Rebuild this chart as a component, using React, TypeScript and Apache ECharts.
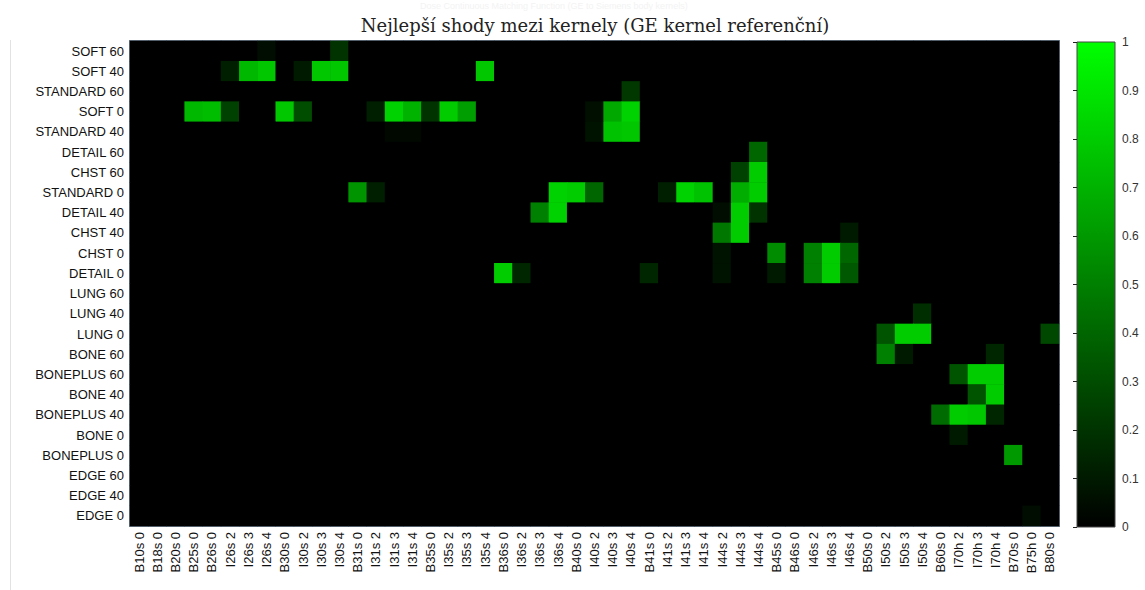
import React, { useEffect, useRef } from "react";
import * as echarts from "echarts";

const xLabels = [
  "B10s 0", "B18s 0", "B20s 0", "B25s 0", "B26s 0", "I26s 2", "I26s 3", "I26s 4",
  "B30s 0", "I30s 2", "I30s 3", "I30s 4", "B31s 0", "I31s 2", "I31s 3", "I31s 4",
  "B35s 0", "I35s 2", "I35s 3", "I35s 4", "B36s 0", "I36s 2", "I36s 3", "I36s 4",
  "B40s 0", "I40s 2", "I40s 3", "I40s 4", "B41s 0", "I41s 2", "I41s 3", "I41s 4",
  "I44s 2", "I44s 3", "I44s 4", "B45s 0", "B46s 0", "I46s 2", "I46s 3", "I46s 4",
  "B50s 0", "I50s 2", "I50s 3", "I50s 4", "B60s 0", "I70h 2", "I70h 3", "I70h 4",
  "B70s 0", "B75h 0", "B80s 0",
];

const yLabels = [
  "SOFT 60", "SOFT 40", "STANDARD 60", "SOFT 0", "STANDARD 40", "DETAIL 60",
  "CHST 60", "STANDARD 0", "DETAIL 40", "CHST 40", "CHST 0", "DETAIL 0",
  "LUNG 60", "LUNG 40", "LUNG 0", "BONE 60", "BONEPLUS 60", "BONE 40",
  "BONEPLUS 40", "BONE 0", "BONEPLUS 0", "EDGE 60", "EDGE 40", "EDGE 0",
];

// [GE kernel (row), Siemens kernel (column), match value]
const matches: [string, string, number][] = [
  ["SOFT 60", "I26s 4", 0.05], ["SOFT 60", "I30s 4", 0.2],
  ["SOFT 40", "I26s 2", 0.12], ["SOFT 40", "I26s 3", 0.72], ["SOFT 40", "I26s 4", 0.78],
  ["SOFT 40", "I30s 2", 0.1], ["SOFT 40", "I30s 3", 0.78], ["SOFT 40", "I30s 4", 0.78],
  ["SOFT 40", "I35s 4", 0.78],
  ["STANDARD 60", "I40s 4", 0.22],
  ["SOFT 0", "B25s 0", 0.72], ["SOFT 0", "B26s 0", 0.74], ["SOFT 0", "I26s 2", 0.25],
  ["SOFT 0", "B30s 0", 0.78], ["SOFT 0", "I30s 2", 0.3], ["SOFT 0", "I31s 2", 0.12],
  ["SOFT 0", "I31s 3", 0.82], ["SOFT 0", "I31s 4", 0.7], ["SOFT 0", "B35s 0", 0.2],
  ["SOFT 0", "I35s 2", 0.8], ["SOFT 0", "I35s 3", 0.62], ["SOFT 0", "I40s 2", 0.06],
  ["SOFT 0", "I40s 3", 0.66], ["SOFT 0", "I40s 4", 0.82],
  ["STANDARD 40", "I31s 3", 0.03], ["STANDARD 40", "I31s 4", 0.03],
  ["STANDARD 40", "I40s 2", 0.07], ["STANDARD 40", "I40s 3", 0.76], ["STANDARD 40", "I40s 4", 0.78],
  ["DETAIL 60", "I44s 4", 0.4],
  ["CHST 60", "I44s 3", 0.25], ["CHST 60", "I44s 4", 0.8],
  ["STANDARD 0", "B31s 0", 0.58], ["STANDARD 0", "I31s 2", 0.12], ["STANDARD 0", "I36s 4", 0.82],
  ["STANDARD 0", "B40s 0", 0.8], ["STANDARD 0", "I40s 2", 0.4], ["STANDARD 0", "I41s 2", 0.12],
  ["STANDARD 0", "I41s 3", 0.82], ["STANDARD 0", "I41s 4", 0.76], ["STANDARD 0", "I44s 3", 0.68],
  ["STANDARD 0", "I44s 4", 0.8],
  ["DETAIL 40", "I36s 3", 0.5], ["DETAIL 40", "I36s 4", 0.82], ["DETAIL 40", "I44s 2", 0.05],
  ["DETAIL 40", "I44s 3", 0.8], ["DETAIL 40", "I44s 4", 0.2],
  ["CHST 40", "I44s 2", 0.47], ["CHST 40", "I44s 3", 0.8], ["CHST 40", "I46s 4", 0.1],
  ["CHST 0", "I44s 2", 0.07], ["CHST 0", "B45s 0", 0.55], ["CHST 0", "I46s 2", 0.5],
  ["CHST 0", "I46s 3", 0.8], ["CHST 0", "I46s 4", 0.4],
  ["DETAIL 0", "B36s 0", 0.8], ["DETAIL 0", "I36s 2", 0.15], ["DETAIL 0", "B41s 0", 0.15],
  ["DETAIL 0", "I44s 2", 0.07], ["DETAIL 0", "B45s 0", 0.1], ["DETAIL 0", "I46s 2", 0.5],
  ["DETAIL 0", "I46s 3", 0.8], ["DETAIL 0", "I46s 4", 0.35],
  ["LUNG 40", "I50s 4", 0.18],
  ["LUNG 0", "I50s 2", 0.33], ["LUNG 0", "I50s 3", 0.8], ["LUNG 0", "I50s 4", 0.8], ["LUNG 0", "B80s 0", 0.28],
  ["BONE 60", "I50s 2", 0.5], ["BONE 60", "I50s 3", 0.1], ["BONE 60", "I70h 4", 0.15],
  ["BONEPLUS 60", "I70h 2", 0.33], ["BONEPLUS 60", "I70h 3", 0.8], ["BONEPLUS 60", "I70h 4", 0.8],
  ["BONE 40", "I70h 3", 0.33], ["BONE 40", "I70h 4", 0.8],
  ["BONEPLUS 40", "B60s 0", 0.42], ["BONEPLUS 40", "I70h 2", 0.8], ["BONEPLUS 40", "I70h 3", 0.78],
  ["BONEPLUS 40", "I70h 4", 0.15],
  ["BONE 0", "I70h 2", 0.1],
  ["BONEPLUS 0", "B70s 0", 0.6],
  ["EDGE 0", "B75h 0", 0.05],
];

const colorbarTicks = [0, 0.1, 0.2, 0.3, 0.4, 0.5, 0.6, 0.7, 0.8, 0.9, 1];

const titleText = "Nejlepší shody mezi kernely (GE kernel referenční)";
const ghostTitle = "Dose Continuous Matching Function (GE to Siemens body kernels)";

export default function App() {
  const ref = useRef<HTMLDivElement>(null);
  useEffect(() => {
    if (!ref.current) return;
    const chart = echarts.init(ref.current, undefined, { renderer: "svg" });

    const matrix: number[][] = yLabels.map(() => xLabels.map(() => 0));
    matches.forEach(([r, c, v]) => {
      matrix[yLabels.indexOf(r)][xLabels.indexOf(c)] = v;
    });
    const data: [number, number, number][] = [];
    matrix.forEach((row, yi) => row.forEach((v, xi) => data.push([xi, yi, v])));

    const tickStyle = { color: "#5a5a5a", width: 1 };
    const labelFont = { fontFamily: "Liberation Sans", fontSize: 13, color: "#111" };

    chart.setOption({
      animation: false,
      backgroundColor: "#ffffff",
      title: {
        text: titleText,
        left: 590,
        textAlign: "center",
        top: 11,
        textStyle: { fontFamily: "DejaVu Serif", fontSize: 18, fontWeight: "normal", color: "#222" },
        z: 10,
      },
      graphic: [
        {
          type: "text",
          x: 420,
          y: 1,
          z: 0,
          style: { text: ghostTitle, font: "9px Liberation Sans", fill: "#f3f3f3" },
        },
        {
          type: "line",
          shape: { x1: 10.5, y1: 40, x2: 10.5, y2: 590 },
          style: { stroke: "#e2e2e2", lineWidth: 1 },
        },
      ],
      grid: [
        {
          left: 130, top: 41, width: 929, height: 485,
          show: true, backgroundColor: "#000", borderColor: "#6e7e8c", borderWidth: 2,
        },
        {
          left: 1077, top: 42, width: 38, height: 485,
          show: true,
          backgroundColor: new echarts.graphic.LinearGradient(0, 0, 0, 1, [
            { offset: 0, color: "#00ff00" },
            { offset: 1, color: "#000000" },
          ]),
          borderColor: "#444", borderWidth: 1,
        },
      ],
      xAxis: [
        {
          type: "category", data: xLabels, gridIndex: 0, position: "bottom",
          axisLine: { show: false },
          axisTick: { inside: true, alignWithLabel: true, length: 4, lineStyle: tickStyle },
          axisLabel: { ...labelFont, rotate: 90, interval: 0, margin: 6 },
          splitLine: { show: false },
        },
        {
          type: "category", data: xLabels, gridIndex: 0, position: "top",
          axisLine: { show: false },
          axisTick: { inside: true, alignWithLabel: true, length: 4, lineStyle: tickStyle },
          axisLabel: { show: false },
        },
        { type: "value", gridIndex: 1, show: false, min: 0, max: 1 },
      ],
      yAxis: [
        {
          type: "category", data: yLabels, gridIndex: 0, inverse: true, position: "left",
          axisLine: { show: false },
          axisTick: { inside: true, alignWithLabel: true, length: 7, lineStyle: tickStyle },
          axisLabel: { ...labelFont, interval: 0, margin: 6 },
        },
        {
          type: "category", data: yLabels, gridIndex: 0, inverse: true, position: "right",
          axisLine: { show: false },
          axisTick: { inside: true, alignWithLabel: true, length: 7, lineStyle: tickStyle },
          axisLabel: { show: false },
        },
        {
          type: "value", gridIndex: 1, position: "right", min: 0, max: 1, interval: 0.1,
          axisLine: { show: false },
          axisTick: { show: true, inside: true, length: 4, lineStyle: { color: "#222" } },
          axisLabel: {
            fontFamily: "Liberation Sans", fontSize: 12, color: "#333", margin: 7,
            formatter: (v: number) => (colorbarTicks.some((t) => Math.abs(t - v) < 1e-6) ? String(+v.toFixed(1)) : ""),
          },
          splitLine: { show: false },
        },
      ],
      visualMap: {
        show: false, min: 0, max: 1, seriesIndex: 0, dimension: 2,
        inRange: { color: ["#000000", "#00ff00"] },
      },
      series: [
        {
          type: "heatmap", xAxisIndex: 0, yAxisIndex: 0, data,
          itemStyle: { borderWidth: 0 },
          emphasis: { disabled: true },
        },
      ],
    });
    return () => chart.dispose();
  }, []);
  return (
    <div
      ref={ref}
      style={{ position: "fixed", left: 0, top: 0, width: 1145, height: 590 }}
    />
  );
}
